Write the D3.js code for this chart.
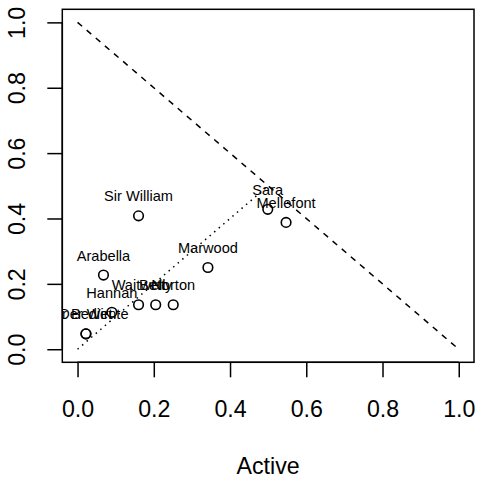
<!DOCTYPE html>
<html><head><meta charset="utf-8">
<script src="https://cdn.jsdelivr.net/npm/d3@7"></script>
<style>
html,body{margin:0;padding:0;background:#fff;}
svg{display:block;font-family:"Liberation Sans",Arial,Helvetica,sans-serif;}
</style></head>
<body><svg id="c" width="477" height="478"></svg>
<script>
const characters = ["Sir William","Sara","Mellefont","Marwood","Arabella","Waitwell","Betty","Norton","Hannah","Der Wirt","Der Bediente"];
const active  = [0.160,0.499,0.547,0.342,0.068,0.160,0.205,0.251,0.090,0.022,0.022];
const passive = [0.408,0.428,0.388,0.250,0.227,0.136,0.136,0.136,0.113,0.047,0.047];
const xTicks = [0,0.2,0.4,0.6,0.8,1.0];
const yTicks = [0,0.2,0.4,0.6,0.8,1.0];
const xTitle = "Active";

const svg = d3.select("#c");
const L=62.3, R=474, T=9.3, B=362.3;
const AX_FONT = 23.2;
const x = d3.scaleLinear().domain([-0.04,1.04]).range([L,R]);
const y = d3.scaleLinear().domain([-0.04,1.04]).range([B,T]);

// box
svg.append("rect").attr("x",L).attr("y",T).attr("width",R-L).attr("height",B-T)
  .attr("fill","none").attr("stroke","#000").attr("stroke-width",1.5);

// x axis
const gx = svg.append("g").attr("transform",`translate(0,${B})`)
  .call(d3.axisBottom(x).tickValues(xTicks).tickSize(15).tickFormat(d3.format(".1f")));
gx.select(".domain").attr("d",`M${x(0)},0H${x(1)}`).attr("stroke-width",1.5);
gx.selectAll(".tick line").attr("stroke-width",1.5);
gx.selectAll(".tick text").attr("y",46.7).attr("dy","0.35em").attr("font-size",AX_FONT)
  .attr("font-family","Liberation Sans, Arial, sans-serif").attr("fill","#000");

// y axis
const gy = svg.append("g").attr("transform",`translate(${L},0)`)
  .call(d3.axisLeft(y).tickValues(yTicks).tickSize(15).tickFormat(d3.format(".1f")));
gy.select(".domain").attr("d",`M0,${y(0)}V${y(1)}`).attr("stroke-width",1.5);
gy.selectAll(".tick line").attr("stroke-width",1.5);
gy.selectAll(".tick text").attr("x",null).attr("dy",null)
  .attr("transform","translate(-45,0) rotate(-90)")
  .attr("text-anchor","middle").attr("dominant-baseline","central")
  .attr("font-size",AX_FONT).attr("font-family","Liberation Sans, Arial, sans-serif").attr("fill","#000");

// x title
svg.append("text").attr("x",(L+R)/2).attr("y",465.7).attr("text-anchor","middle")
  .attr("dominant-baseline","central").attr("font-size",AX_FONT).text(xTitle);

// clip
svg.append("clipPath").attr("id","pc").append("rect")
  .attr("x",L).attr("y",T).attr("width",R-L).attr("height",B-T);
const plot = svg.append("g").attr("clip-path","url(#pc)");

// reference lines
plot.append("line").attr("x1",x(0)).attr("y1",y(1)).attr("x2",x(1)).attr("y2",y(0))
  .attr("stroke","#000").attr("stroke-width",1.5).attr("stroke-dasharray","6,6");
plot.append("line").attr("x1",x(0)).attr("y1",y(0)).attr("x2",x(0.5)).attr("y2",y(0.5))
  .attr("stroke","#000").attr("stroke-width",1.5).attr("stroke-dasharray","1.5,4.5");

const data = characters.map((c,i)=>({name:c,a:active[i],p:passive[i]}));
plot.selectAll("circle.pt").data(data).join("circle").attr("class","pt")
  .attr("cx",d=>x(d.a)).attr("cy",d=>y(d.p)).attr("r",4.8)
  .attr("fill","none").attr("stroke","#000").attr("stroke-width",1.6);
plot.selectAll("text.lb").data(data).join("text").attr("class","lb")
  .attr("x",d=>x(d.a)).attr("y",d=>y(d.p)-19.5)
  .attr("text-anchor","middle").attr("dominant-baseline","central")
  .attr("font-size",14.6).attr("fill","#000").text(d=>d.name);
</script></body></html>
